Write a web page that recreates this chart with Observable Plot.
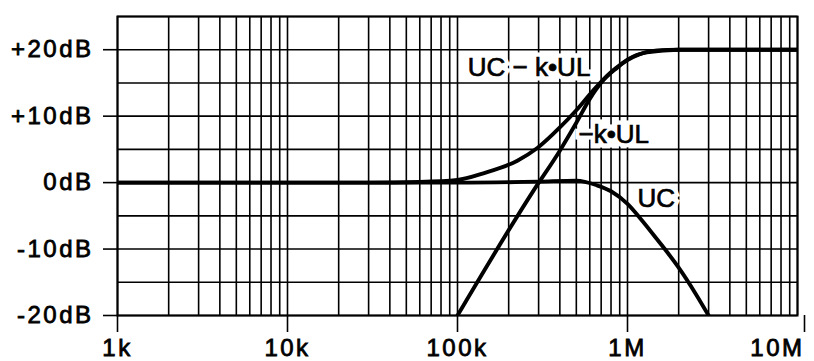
<!DOCTYPE html>
<html>
<head>
<meta charset="utf-8">
<script src="https://cdn.jsdelivr.net/npm/d3@7"></script>
<script src="https://cdn.jsdelivr.net/npm/@observablehq/plot@0.6"></script>
<style>
  html, body { margin: 0; padding: 0; background: #fff; }
  #chart svg { display: block; }
  #chart svg .ticklbl text { letter-spacing: 2.5px; stroke: #000; stroke-width: 0.8px; }
  #chart svg .curvelbl text { stroke: #000; stroke-width: 0.7px; }
</style>
</head>
<body>
<div id="chart"></div>
<script>
// ---- data ----
const xTicks = [1e3, 1e4, 1e5, 1e6, 1e7];
const xTickLabels = ["1k", "10k", "100k", "1M", "10M"];
const yTicks = [20, 10, 0, -10, -20];
const yTickLabels = ["+20dB", "+10dB", "0dB", "-10dB", "-20dB"];
const yGrid = [-20, -15, -10, -5, 0, 5, 10, 15, 20, 25];

// UC
const ucFreq = [1e3, 1e5, 3e5, 5e5, 6.6e5, 8e5, 1e6, 1.2e6, 1.5e6, 2e6, 2.5e6, 3e6];
const ucDb   = [0,   0,   0.15, 0.3, -0.4, -1.3, -3.2, -5.5, -8.6, -12.8, -16.6, -20];
// -k·UL
const kulFreq = [1e5, 2.8e5, 4e5, 5e5, 6e5, 7.2e5, 8.7e5, 1e6, 1.3e6, 2e6, 1e7];
const kulDb   = [-20, -1.2,  4.8, 9.0, 12.6, 15.4, 17.3, 18.5, 19.6, 20, 20];
// UC - k·UL
const sumFreq = [1e3, 3e4, 6e4, 1e5, 1.42e5, 2.25e5, 2.95e5, 4e5, 5e5, 6.3e5, 7.9e5, 1.08e6, 1.5e6, 2e6, 1e7];
const sumDb   = [0,   0,   0.1, 0.4, 1.4,    3.3,    5.2,    8.3, 10.9, 13.9, 16.5, 18.9, 19.9, 20, 20];

// curve labels
const labelText = ["UC − k•UL", "−k•UL", "UC"];
const labelFreq = [1.15e5, 5.15e5, 1.145e6];
const labelDb   = [17.3, 7.2, -2.4];

// ---- build tables ----
const minorX = [];
for (let e = 3; e < 7; e++) for (let m = 1; m <= 9; m++) minorX.push(m * 10 ** e);
minorX.push(1e7);
const toRows = (f, v, s) => f.map((x, i) => ({x, y: v[i], s}));
const uc = toRows(ucFreq, ucDb, "UC");
const kul = toRows(kulFreq, kulDb, "kUL");
const sum = toRows(sumFreq, sumDb, "sum");
const labels = labelText.map((t, i) => ({t, x: labelFreq[i], y: labelDb[i]}));

const font = "'Liberation Sans', Arial, Helvetica, sans-serif";
const lineOpts = {x: "x", y: "y", stroke: "#000", strokeWidth: 3.9, curve: "monotone-x", clip: true};

const chart = Plot.plot({
  width: 814,
  height: 361,
  marginLeft: 117,
  marginRight: 17,
  marginTop: 16,
  marginBottom: 46,
  style: {fontFamily: font, background: "#fff", color: "#000"},
  x: {type: "log", domain: [1e3, 1e7]},
  y: {domain: [-20, 25]},
  marks: [
    Plot.ruleX(minorX, {stroke: "#000", strokeWidth: 1.6}),
    Plot.ruleY(yGrid, {stroke: "#000", strokeWidth: 1.6}),
    Plot.frame({stroke: "#000", strokeWidth: 2}),
    // white backgrounds behind curve labels
    Plot.text(labels, {x: "x", y: "y", text: "t", textAnchor: "start", fontSize: 26,
      fill: "#fff", stroke: "#fff", strokeWidth: 9, strokeLinejoin: "miter"}),
    Plot.line(uc, lineOpts),
    Plot.line(kul, lineOpts),
    Plot.line(sum, lineOpts),
    Plot.text(labels, {x: "x", y: "y", text: "t", textAnchor: "start", fontSize: 26, fill: "#000", className: "curvelbl"}),
    Plot.axisY({ticks: yTicks, tickFormat: (d) => yTickLabels[yTicks.indexOf(d)], label: null,
      tickSize: 14, tickPadding: 10, fontSize: 24, strokeWidth: 1.6, className: "ticklbl"}),
    Plot.axisX({ticks: xTicks.slice(0, 4), tickFormat: (d) => xTickLabels[xTicks.indexOf(d)], label: null,
      tickSize: 17, tickPadding: 6, fontSize: 24, strokeWidth: 1.6, className: "ticklbl"}),
    Plot.axisX({ticks: xTicks.slice(4), tickFormat: (d) => xTickLabels[xTicks.indexOf(d)], label: null,
      tickSize: 17, tickPadding: 6, fontSize: 24, strokeWidth: 1.6, textAnchor: "end", dx: 7, className: "ticklbl"})
  ]
});
document.getElementById("chart").appendChild(chart);
</script>
</body>
</html>
